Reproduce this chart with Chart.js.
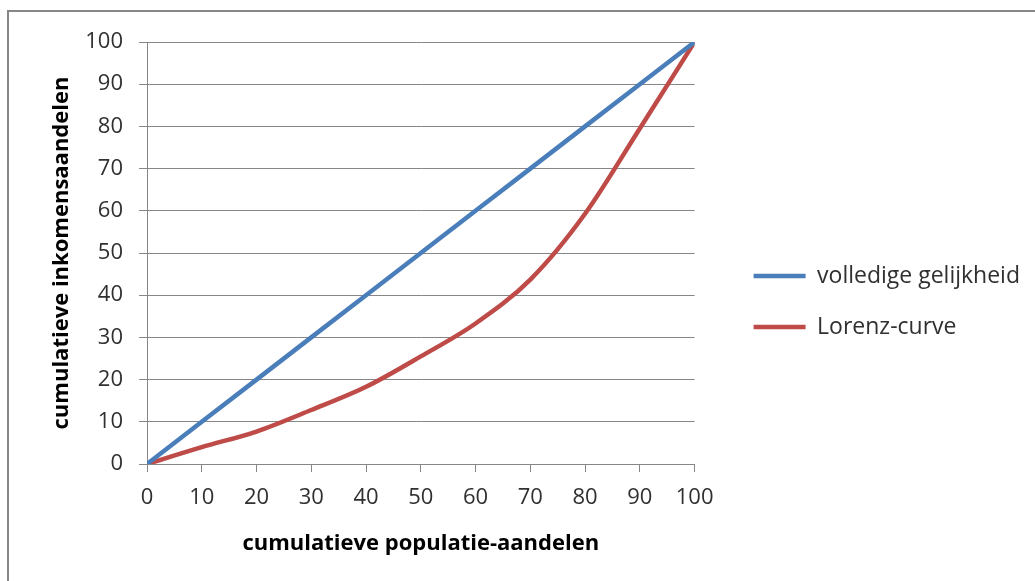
<!DOCTYPE html>
<html>
<head>
<meta charset="utf-8">
<script src="https://cdn.jsdelivr.net/npm/chart.js@4.4.1/dist/chart.umd.min.js"></script>
<style>
  html, body { margin: 0; padding: 0; background: #fff; overflow: hidden; }
  #frame {
    position: absolute; left: 7px; top: 10px; width: 1200px; height: 800px;
    border-left: 2px solid #878787; border-top: 2px solid #878787;
  }
  #wrap { position: absolute; left: 0; top: 0; width: 1035px; height: 581px; }
</style>
</head>
<body>
<div id="frame"></div>
<div id="wrap"><canvas id="lorenzChart"></canvas></div>
<script>
  // cumulatieve populatie-aandelen (x) en inkomensaandelen (y)
  const populationShares = [0, 10, 20, 30, 40, 50, 60, 70, 80, 90, 100];
  const equalityShares = [0, 10, 20, 30, 40, 50, 60, 70, 80, 90, 100];
  const lorenzShares = [0, 4, 7.7, 12.8, 18.3, 25.5, 33.3, 43.7, 59.3, 79.5, 100];
  const seriesLabels = ["volledige gelijkheid", "Lorenz-curve"];
  const axisMin = 0;
  const axisMax = 100;
  const axisStep = 10;

  const gridColor = "#868686";
  const textColor = "#303030";
  const fontFamily = "'Open Sans', sans-serif";

  function toPoints(xs, ys) {
    return xs.map((x, i) => ({ x: x, y: ys[i] }));
  }

  const ctx = document.getElementById("lorenzChart").getContext("2d");

  new Chart(ctx, {
    type: "line",
    data: {
      datasets: [
        {
          label: seriesLabels[0],
          data: toPoints(populationShares, equalityShares),
          borderColor: "#4A7EBB",
          backgroundColor: "#4A7EBB",
          borderWidth: 4.5,
          pointRadius: 0,
          tension: 0
        },
        {
          label: seriesLabels[1],
          data: toPoints(populationShares, lorenzShares),
          borderColor: "#BE4B48",
          backgroundColor: "#BE4B48",
          borderWidth: 4.5,
          pointRadius: 0,
          cubicInterpolationMode: "monotone"
        }
      ]
    },
    options: {
      responsive: true,
      maintainAspectRatio: false,
      animation: false,
      layout: {
        padding: { left: 40, top: 42, right: 5, bottom: 20 }
      },
      plugins: {
        tooltip: { enabled: false },
        legend: {
          position: "right",
          align: "center",
          maxWidth: 400,
          labels: {
            usePointStyle: true,
            pointStyle: "line",
            pointStyleWidth: 52,
            padding: 28,
            color: textColor,
            font: { family: fontFamily, size: 23 }
          }
        }
      },
      scales: {
        x: {
          type: "linear",
          min: axisMin,
          max: axisMax,
          ticks: {
            stepSize: axisStep,
            color: textColor,
            padding: 13,
            font: { family: fontFamily, size: 22 }
          },
          grid: {
            drawOnChartArea: false,
            tickLength: 8,
            color: gridColor
          },
          border: { color: gridColor },
          title: {
            display: true,
            text: "cumulatieve populatie-aandelen",
            color: "#000",
            font: { family: fontFamily, size: 22, weight: "bold" },
            padding: { top: 0, bottom: 4 }
          },
          afterFit: (scale) => { scale.height = 97; }
        },
        y: {
          min: axisMin,
          max: axisMax,
          ticks: {
            stepSize: axisStep,
            color: textColor,
            padding: 16,
            font: { family: fontFamily, size: 22 }
          },
          grid: {
            tickLength: 8,
            color: gridColor
          },
          border: { color: gridColor },
          title: {
            display: true,
            text: "cumulatieve inkomensaandelen",
            color: "#000",
            font: { family: fontFamily, size: 22, weight: "bold" },
            padding: { top: 9, bottom: 0 }
          },
          afterFit: (scale) => { scale.width = 107; }
        },
        gap: {
          type: "linear",
          position: "right",
          display: true,
          grid: { display: false },
          ticks: { display: false },
          border: { display: false },
          afterFit: (scale) => { scale.width = 31; }
        }
      }
    }
  });
</script>
</body>
</html>
